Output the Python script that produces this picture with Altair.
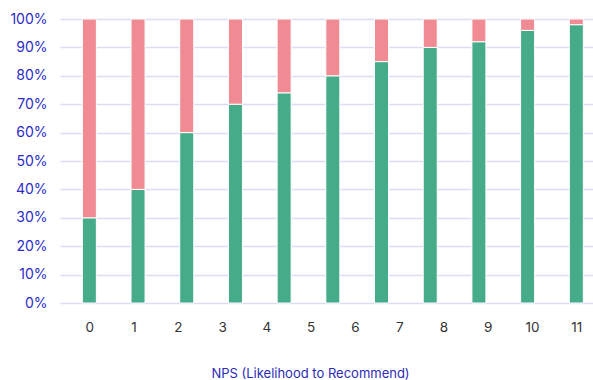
import altair as alt
import pandas as pd

bar_index = list(range(11))
promoter_share = [30, 40, 60, 70, 74, 80, 85, 90, 92, 96, 98]
tick_labels = [str(i) for i in range(12)]

rows = []
for i, g in zip(bar_index, promoter_share):
    rows.append({"pos": i, "group": "Yes", "order": 0, "value": g})
    rows.append({"pos": i, "group": "No", "order": 1, "value": 100 - g})
df = pd.DataFrame(rows)

tick_values = [i * 10 / 11 for i in range(len(tick_labels))]

chart = alt.Chart(df).mark_bar(size=14, stroke="white", strokeWidth=1).encode(
    x=alt.X("pos:Q",
            scale=alt.Scale(domain=[-0.5, 10.24], nice=False, zero=False),
            axis=alt.Axis(values=tick_values,
                          labelExpr="format(round(datum.value*1.1), 'd')",
                          grid=False, domain=False, ticks=False,
                          labelPadding=17, labelFontSize=13.5, labelColor="#333333",
                          labelFont="Inter",
                          title="NPS (Likelihood to Recommend)",
                          titleFont="Inter", titleFontSize=13, titleFontWeight="normal",
                          titleColor="#2b2bb8", titlePadding=34,
                          titleX=250, titleAlign="center")),
    y=alt.Y("value:Q", stack="zero",
            scale=alt.Scale(domain=[0, 100], nice=False),
            axis=alt.Axis(values=list(range(0, 101, 10)),
                          labelExpr="datum.value + '%'",
                          domain=False, ticks=False, labelPadding=13,
                          labelFontSize=14, labelColor="#2b2bc8", labelFont="Inter",
                          gridColor="#dcdcf4", gridWidth=1.5, title=None)),
    color=alt.Color("group:N",
                    scale=alt.Scale(domain=["Yes", "No"], range=["#45ab89", "#f08a93"]),
                    legend=None),
    order=alt.Order("order:Q"),
).properties(
    width=533, height=284,
    autosize=alt.AutoSizeParams(type="none"),
    padding={"left": 60, "top": 19, "right": 0, "bottom": 77},
).configure_view(stroke=None)

chart.save("out.html", embed_options={"renderer": "svg", "actions": False})
